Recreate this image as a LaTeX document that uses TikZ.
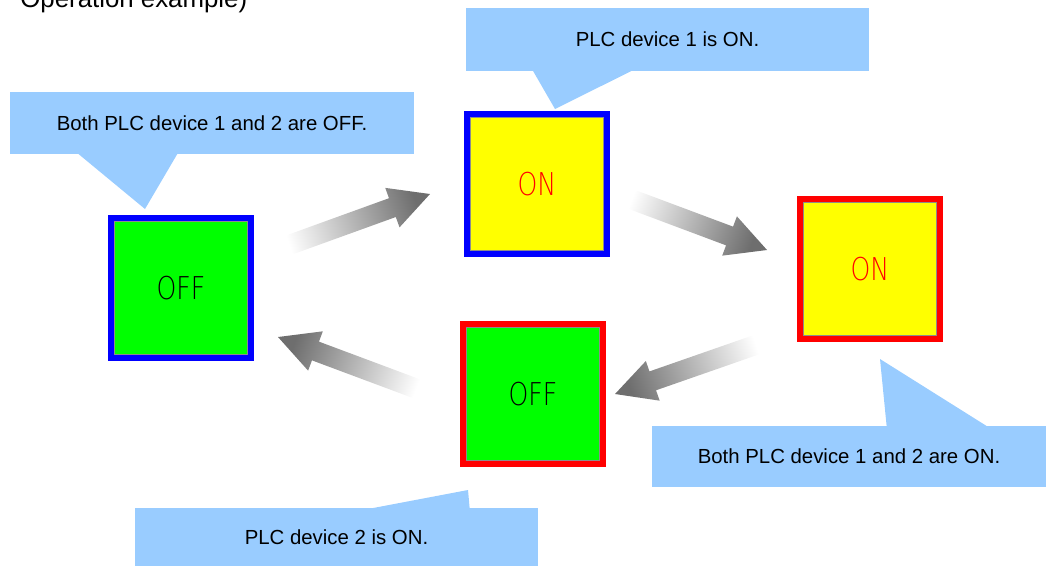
\documentclass[tikz,border=0pt]{standalone}
\usepackage{fontspec}
\setmainfont{Liberation Sans}
\newfontfamily\lampfont{DejaVu Sans ExtraLight}
\usepackage{tikz}
\usetikzlibrary{calc}
\usepackage{xcolor}
\definecolor{CB}{RGB}{0,0,255}
\definecolor{CR}{RGB}{255,0,0}
\definecolor{LG}{RGB}{0,255,0}
\definecolor{LY}{RGB}{255,255,0}
\definecolor{LB}{RGB}{153,204,255}
\definecolor{AG}{RGB}{110,110,110}

\begin{document}
\begin{tikzpicture}[x=0.02cm, y=-0.02cm,
  lamp/.style={draw=#1, line width=0.12cm, minimum size=2.8cm, inner sep=0pt,
               font=\lampfont\fontsize{17.9}{18}\selectfont,
               path picture={\draw[black!45, line width=0.02cm]
                 ([shift={(0.07cm,0.07cm)}]path picture bounding box.south west) rectangle
                 ([shift={(-0.07cm,-0.07cm)}]path picture bounding box.north east);}},
  lampon/.style={lamp=#1, fill=LY, text=CR},
  lampoff/.style={lamp=#1, fill=LG, text=black},
  note/.style={fill=LB, inner sep=0pt, font=\fontsize{11.6}{14}\selectfont}
]
\clip (0,0) rectangle (1048,566);

% Heading (cut at the top edge)
\node[anchor=base west, inner sep=0pt, font=\fontsize{14.7}{16}\selectfont] (title)
  at (20,7.5) {Operation example)};

% Lamps
\node[lampoff=CB] (offA) at (181,288) {\scalebox{0.8}[1]{OFF}};
\node[lampon=CB]  (onB)  at (537,184) {\scalebox{0.8}[1]{ON}};
\node[lampon=CR]  (onC)  at (870,269) {\scalebox{0.8}[1]{ON}};
\node[lampoff=CR] (offD) at (533,394) {\scalebox{0.8}[1]{OFF}};

% Callouts
\node[note, minimum width=8.08cm, minimum height=1.24cm] (noteA) at (212,123)
  {Both PLC device 1 and 2 are OFF.};
\node[note, minimum width=8.06cm, minimum height=1.26cm] (noteB) at (667.5,39.5)
  {PLC device 1 is ON.};
\node[note, minimum width=7.88cm, minimum height=1.22cm] (noteC) at (849,456.5)
  {Both PLC device 1 and 2 are ON.};
\node[note, minimum width=8.06cm, minimum height=1.16cm] (noteD) at (336.5,537)
  {PLC device 2 is ON.};

\coordinate (tipA) at (145,209);
\coordinate (tipB) at (555,109);
\coordinate (tipC) at (880,359);
\coordinate (tipD) at (468,490);
\fill[LB] ($(noteA.south west)+(68,-1)$) -- (tipA) -- ($(noteA.south west)+(168,-1)$) -- cycle;
\fill[LB] ($(noteB.south west)+(67,-1)$) -- (tipB) -- ($(noteB.south west)+(167,-1)$) -- cycle;
\fill[LB] ($(noteC.north west)+(235,1)$) -- (tipC) -- ($(noteC.north west)+(336,1)$) -- cycle;
\fill[LB] ($(noteD.north west)+(235,1)$) -- (tipD) -- ($(noteD.north west)+(335,1)$) -- cycle;

% Fading arrows between the lamps
\coordinate (a1t) at (278,249); \coordinate (a1h) at (430,194);
\coordinate (a2t) at (620,195); \coordinate (a2h) at (767,250);
\coordinate (a3t) at (767,341); \coordinate (a3h) at (615,394);
\coordinate (a4t) at (428,393); \coordinate (a4h) at (278,337);
\foreach \t/\h/\a in {a1t/a1h/-71.1, a2t/a2h/-110.7, a3t/a3h/109.3, a4t/a4h/69.3} {
  \coordinate (hb) at ($(\h)!0.8cm!(\t)$);
  \shade[top color=AG, bottom color=white, shading angle=\a]
    ($(\t)!0.2cm!90:(\h)$) -- ($(hb)!0.2cm!90:(\h)$) -- ($(hb)!0.42cm!90:(\h)$) -- (\h)
    -- ($(hb)!0.42cm!-90:(\h)$) -- ($(hb)!0.2cm!-90:(\h)$) -- ($(\t)!0.2cm!-90:(\h)$) -- cycle;
}
\end{tikzpicture}
\end{document}
